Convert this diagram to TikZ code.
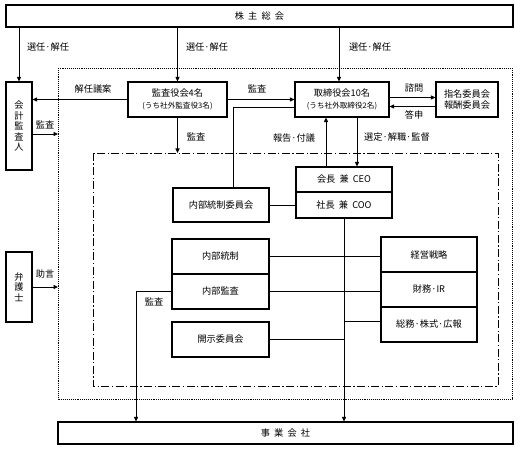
\documentclass[tikz,border=0pt]{standalone}
\usepackage{fontspec}
\setmainfont{Noto Sans CJK JP}
\usetikzlibrary{arrows.meta}
\begin{document}
\begin{tikzpicture}[x=1pt,y=-1pt,
  font=\fontsize{9.2}{10.5}\selectfont,
  box/.style={draw, line width=1.1pt, inner sep=0pt, align=center},
  ln/.style={line width=0.9pt},
  arr/.style={ln, -{Triangle[length=4.5pt,width=4pt]}},
  lbl/.style={inner sep=0pt},
  small/.style={font=\fontsize{7.6}{8.5}\selectfont}]
\useasboundingbox (0,0) rectangle (520,449);
% frames
\draw[line width=0.9pt, densely dotted] (58,68) rectangle (512,399);
\draw[line width=0.9pt, dash pattern=on 8pt off 2.5pt on 1.2pt off 2.5pt] (93,153) rectangle (498,386);
% boxes
\node[box, minimum width=507pt, minimum height=22pt] (gm) at (259.5,16) {株\ \ 主\ \ 総\ \ 会};
\node[box, minimum width=26pt, minimum height=88pt] (kaikei) at (19,126) {会\\計\\監\\査\\人};
\node[box, minimum width=26pt, minimum height=70pt] (bengo) at (19,287) {弁\\護\\士};
\node[box, minimum width=99pt, minimum height=35pt] (kansa) at (177.5,99.5) {監査役会4名\\[1pt]{\fontsize{7.6}{8.5}\selectfont (うち社外監査役3名)}};
\node[box, minimum width=94pt, minimum height=35pt] (tori) at (342,99.5) {取締役会10名\\[1pt]{\fontsize{7.6}{8.5}\selectfont (うち社外取締役2名)}};
\node[box, minimum width=62pt, minimum height=35pt] (shimei) at (467,99.5) {指名委員会\\報酬委員会};
\node[box, minimum width=96pt, minimum height=25pt] (ceo) at (344,179.5) {会長\ \ 兼\ \ CEO};
\node[box, minimum width=96pt, minimum height=26pt] (coo) at (344,205) {社長\ \ 兼\ \ COO};
\node[box, minimum width=96pt, minimum height=34pt] (iinkai) at (221,205) {内部統制委員会};
\node[box, minimum width=97pt, minimum height=35pt] (nt) at (220.5,256.5) {内部統制};
\node[box, minimum width=97pt, minimum height=35pt] (nk) at (220.5,291.5) {内部監査};
\node[box, minimum width=97pt, minimum height=35pt] (kaiji) at (220.5,339.5) {開示委員会};
\node[box, minimum width=96pt, minimum height=35pt] (keiei) at (429,254.5) {経営戦略};
\node[box, minimum width=96pt, minimum height=35pt] (zaimu) at (429,289.5) {財務·IR};
\node[box, minimum width=96pt, minimum height=35pt] (somu) at (429,324.5) {総務·株式·広報};
\node[box, minimum width=455pt, minimum height=22pt] (jigyo) at (285.5,433) {事\ \ 業\ \ 会\ \ 社};
% coordinates on frames
\coordinate (dotA) at (58,134);
\coordinate (dotB) at (58,287);
\coordinate (ddTop) at (177.5,153);
\coordinate (kk) at (136,0);
% connectors
\draw[arr] (gm.south -| kaikei.north) -- (kaikei.north);
\draw[arr] (gm.south -| kansa.north) -- (kansa.north);
\draw[arr] ([xshift=-3pt]gm.south -| tori.north) -- ([xshift=-3pt]tori.north);
\draw[arr] (kansa.west) -- (kansa.west -| kaikei.east);
\draw[arr] (kansa.east) -- (tori.west);
\draw[arr] (kaikei.east |- dotA) -- (dotA);
\draw[arr] (bengo.east |- dotB) -- (dotB);
\draw[arr] (kansa.south) -- (ddTop);
\draw[arr] ([yshift=2pt]tori.east) -- ([yshift=2pt]shimei.west);
\draw[arr] ([yshift=-7pt]shimei.west) -- ([yshift=-7pt]tori.east);
\draw[arr] ([xshift=-18pt]ceo.north) -- ([xshift=-18pt]ceo.north |- tori.south);
\draw[arr] ([xshift=15pt]tori.south) -- ([xshift=15pt]tori.south |- ceo.north);
\draw[ln] ([xshift=12pt]iinkai.north) |- ([yshift=-7.5pt]tori.west);
\draw[ln] (iinkai.east) -- (coo.west);
\draw[arr] (coo.south) -- (coo.south |- jigyo.north);
\draw[ln] (nt.east) -- (nt.east -| keiei.west);
\draw[ln] (nk.east) -- (nk.east -| zaimu.west);
\draw[ln] (kaiji.east) -- (kaiji.east -| coo.south);
\draw[ln] ([yshift=3.5pt]somu.west -| coo.south) -- ([yshift=3.5pt]somu.west);
\draw[arr] (nk.west) -| (kk |- jigyo.north);
% labels
\node[lbl] at (48,47) {選任·解任};
\node[lbl] at (207,47) {選任·解任};
\node[lbl] at (370,47) {選任·解任};
\node[lbl] at (93,89) {解任議案};
\node[lbl] at (45,125) {監査};
\node[lbl] at (196,137) {監査};
\node[lbl] at (257,89) {監査};
\node[lbl] at (414,88) {諮問};
\node[lbl] at (414,115) {答申};
\node[lbl] at (294,138) {報告·付議};
\node[lbl] at (397,137) {選定·解職·監督};
\node[lbl] at (154,302) {監査};
\node[lbl] at (45,274) {助言};
\end{tikzpicture}
\end{document}
